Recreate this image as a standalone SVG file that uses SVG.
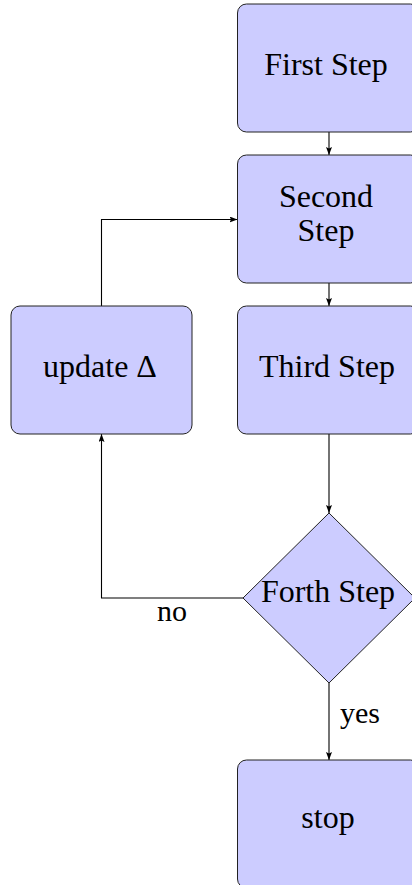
<svg xmlns="http://www.w3.org/2000/svg" width="412" height="885" viewBox="0 0 412 885">
<style>
.box{fill:#ccccff;stroke:#222;stroke-width:1}
.t{font-family:"Liberation Serif","Times New Roman",serif;font-size:32px;fill:#000;text-anchor:middle}
.l{font-family:"Liberation Serif","Times New Roman",serif;font-size:30px;fill:#000;text-anchor:middle}
.c{fill:none;stroke:#000;stroke-width:1.1}
</style>
<defs>
<marker id="ah" viewBox="0 0 8 6" refX="8" refY="3" markerWidth="8" markerHeight="6" markerUnits="userSpaceOnUse" orient="auto">
<path d="M0,0 L8,3 L0,6 L1.5,3 Z" fill="#000"/>
</marker>
</defs>
<rect width="412" height="885" fill="#fff"/>
<g id="connectors">
<path class="c" d="M329,132 V155" marker-end="url(#ah)"/>
<path class="c" d="M329,283 V306" marker-end="url(#ah)"/>
<path class="c" d="M329,434 V513" marker-end="url(#ah)"/>
<path class="c" d="M329,683 V760" marker-end="url(#ah)"/>
<path class="c" d="M243,598 H101.5 V434" marker-end="url(#ah)"/>
<path class="c" d="M101.5,306 V219.5 H237.5" marker-end="url(#ah)"/>
<text class="l" x="172" y="621">no</text>
<text class="l" x="360" y="723">yes</text>
</g>
<g id="first">
<rect class="box" x="237.5" y="4" width="182" height="128" rx="9"/>
<text class="t" x="326" y="75">First Step</text>
</g>
<g id="second">
<rect class="box" x="237.5" y="155" width="182" height="128" rx="9"/>
<text class="t" x="326" y="207">Second</text>
<text class="t" x="326" y="241">Step</text>
</g>
<g id="third">
<rect class="box" x="237.5" y="306" width="182" height="128" rx="9"/>
<text class="t" x="327" y="377">Third Step</text>
</g>
<g id="update">
<rect class="box" x="11" y="306" width="181" height="128" rx="9"/>
<text class="t" x="100" y="377">update Δ</text>
</g>
<g id="forth">
<path class="box" d="M329,513 L415,598 L329,683 L243,598 Z"/>
<text class="t" x="328" y="602">Forth Step</text>
</g>
<g id="stop">
<rect class="box" x="237.5" y="760" width="182" height="128" rx="9"/>
<text class="t" x="328" y="828">stop</text>
</g>
</svg>
